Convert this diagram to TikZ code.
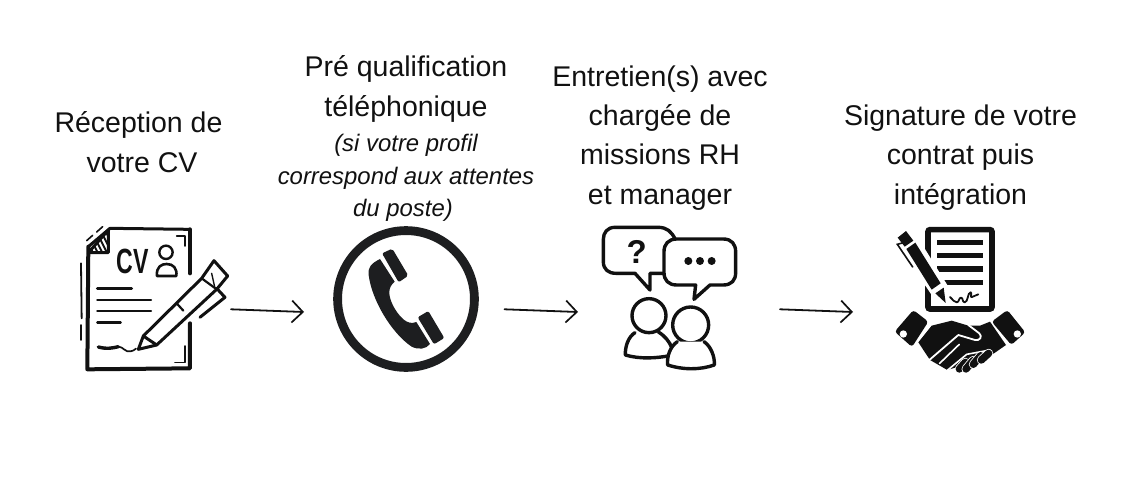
\documentclass[tikz,border=0pt]{standalone}
\usepackage{fontspec}
\setmainfont{Liberation Sans}
\usetikzlibrary{arrows.meta}
\definecolor{ink}{HTML}{111111}
\definecolor{phone}{HTML}{1D1E20}
\tikzset{
  lab/.style={inner sep=0pt,align=center,text=ink,font=\fontsize{28.5}{39.3}\selectfont},
  flow/.style={ink,line width=1.8pt,line cap=round,-{Straight Barb[length=11pt,width=22pt,line width=1.7pt]}},
  ln/.style={ink,line width=3pt,line cap=round,line join=round},
  thick2/.style={ink,line width=4pt,line cap=round,line join=round},
  thin1/.style={ink,line width=1.6pt,line cap=round,line join=round},
  bub/.style={ink,line width=3.4pt,line cap=round,line join=round},
  z1/.style={shift={(60,210)},x=.3333pt,y=-.3333pt},
  z2/.style={shift={(320,210)},x=.3333pt,y=-.3333pt},
  z3/.style={shift={(590,210)},x=.3333pt,y=-.3333pt},
  z4/.style={shift={(880,215)},x=.3333pt,y=-.3333pt},
  z5/.style={shift={(890,225)},x=.3333pt,y=-.3333pt},
  z6/.style={shift={(890,305)},x=.3333pt,y=-.3333pt},
}
\newcommand{\itl}[1]{{\fontsize{23.9}{32}\selectfont\itshape #1}}
\begin{document}
\begin{tikzpicture}[x=1pt,y=-1pt]
\useasboundingbox (0,0) rectangle (1121,487);
% labels
\node[lab,anchor=base] (t1) at (138.5,172) {Réception de\\\hspace*{7pt}votre CV};
\node[lab,anchor=base] (t2) at (406,216.5) {Pré qualification\\téléphonique\\[-3.5pt]\itl{(si votre profil}\\[-7pt]\itl{correspond aux attentes}\\[-7pt]\itl{du poste)\hspace*{6pt}}};
\node[lab,anchor=base] (t3) at (660,204) {Entretien(s) avec\\chargée de\\missions RH\\et manager};
\node[lab,anchor=base] (t4) at (960.5,204) {Signature de votre\\contrat puis\\intégration};
% --- CV icon
\begin{scope}[z1]
  \draw[ln] (85,110) -- (150,55) -- (390,58);
  \draw[thick2] (390,58) -- (390,190);
  \draw[thick2] (390,340) -- (390,475) -- (82,478) -- (85,110);
  \begin{scope}
    \clip (85,128) -- (145,128) -- (145,60) -- cycle;
    \foreach \a in {100,114,...,170} \draw[ink,line width=1.9pt] (\a,130) -- ({\a-30},70);
  \end{scope}
  \draw[ln] (85,128) -- (145,128) -- (145,60) -- cycle;
  \draw[thin1] (80,92) -- (98,76) (110,66) -- (128,50);
  \draw[thin1,line width=1.8pt] (63,160) -- (65,325) (63,345) -- (63,390);
  \draw[thin1] (350,78) -- (375,78) -- (375,108);
  \draw[thin1] (345,457) -- (375,457) -- (375,408);
  \node[inner sep=0pt,text=ink,font=\fontsize{35}{35}\selectfont\bfseries] (cv) at (218,153) {\scalebox{.66}[1]{CV}};
  \draw[ln,line width=2.4pt] (318,127) circle (20);
  \draw[ln,line width=2.6pt] (291,198) .. controls (288,170) and (305,162) .. (320,162) .. controls (340,162) and (352,175) .. (349,198) -- cycle;
  \draw[ln] (112,237) -- (215,237);
  \draw[ln,line width=2.4pt] (112,270) -- (273,270) (112,303) -- (273,303) (112,337) -- (182,337);
  \draw[ln,line width=3.4pt] (115,411) .. controls (140,418) and (160,414) .. (175,410);
  \draw[ln,line width=1.7pt] (175,410) .. controls (190,410) and (195,428) .. (212,424) .. controls (218,424) and (222,420) .. (228,416);
  \draw[ink,line width=3pt,line join=round,fill=white] (235,418) -- (250,378) -- (425,205) -- (462,152) -- (503,198) -- (470,238) -- (290,405) -- cycle;
  \draw[ln] (470,235) -- (495,262) -- (420,322);
  \draw[ln] (250,378) -- (290,405);
  \draw[ln,line width=2.2pt] (350,280) -- (370,302);
  \draw[ln,line width=2.2pt] (425,205) -- (470,238);
  \draw[ln,line width=1.4pt] (455,190) -- (465,235);
\end{scope}
% --- phone icon
\begin{scope}
  \clip (320,210) rectangle (478.8,371.6);
  \draw[phone,line width=8.8pt] (406,299) circle (68.4);
\end{scope}
\begin{scope}[z2]
  \fill[phone] (180,147) .. controls (155,160) and (143,170) .. (146,195)
     .. controls (155,270) and (215,370) .. (275,410)
     .. controls (295,420) and (318,418) .. (330,402)
     -- (289,336) .. controls (275,342) and (262,338) .. (250,328)
     .. controls (225,305) and (208,270) .. (208,248)
     .. controls (207,235) and (215,222) .. (224,215) -- cycle;
  \fill[phone,rounded corners=2pt] (186,130) -- (217,116) -- (265,197) -- (236,217) -- cycle;
  \fill[phone,rounded corners=2pt] (293,322) -- (325,303) -- (373,384) -- (342,403) -- cycle;
  \draw[white,line width=1.3pt] (183,132) -- (232,217) (288,323) -- (338,407);
\end{scope}
% --- discussion icon
\begin{scope}[z3]
  \draw[bub] (255,87) .. controls (245,65) and (230,52) .. (205,52) -- (75,52) .. controls (52,52) and (40,68) .. (40,88) -- (40,155) .. controls (40,178) and (55,190) .. (78,190) -- (135,190) -- (180,240) -- (180,190) -- (222,190);
  \draw[bub,fill=white] (260,87) -- (400,87) .. controls (425,87) and (437,103) .. (437,125) -- (437,188) .. controls (437,210) and (425,225) .. (400,225) -- (360,225) -- (312,268) -- (317,225) -- (260,225) .. controls (235,225) and (222,210) .. (222,188) -- (222,125) .. controls (222,103) and (235,87) .. (260,87) -- cycle;
  \node[inner sep=0pt,text=ink,font=\fontsize{33}{33}\selectfont\bfseries] (q) at (140,125) {?};
  \foreach \x in {295,330,365} \fill[ink] (\x,153) circle (12);
  \draw[bub] (177,317) circle (51);
  \draw[bub] (135,368) .. controls (115,380) and (105,410) .. (106,435) .. controls (150,448) and (200,445) .. (245,436);
  \draw[bub] (205,366) .. controls (225,378) and (238,395) .. (245,412);
  \draw[bub,fill=white] (302,345) circle (54);
  \draw[bub,fill=white] (262,395) .. controls (240,410) and (230,440) .. (233,465) .. controls (280,480) and (330,480) .. (373,465) .. controls (375,440) and (362,408) .. (342,395);
\end{scope}
% --- contract icon
\begin{scope}[z4]
  \draw[ink,line width=5.6pt,rounded corners=2pt] (144,44) rectangle (336,282);
  \foreach \y in {82,121,162,202} \fill[ink] (172,{\y-8}) rectangle (310,{\y+8});
  \draw[ln,line width=1.8pt] (210,246) .. controls (220,255) and (222,262) .. (230,262) .. controls (238,262) and (236,248) .. (243,248) .. controls (250,248) and (246,262) .. (254,262) .. controls (265,262) and (262,232) .. (272,232) .. controls (278,232) and (268,250) .. (276,246) -- (295,238);
\end{scope}
\begin{scope}[z5]
  \fill[white] (30,70) -- (85,40) -- (175,185) -- (178,240) -- (125,210) -- cycle;
  \fill[ink] (23,38) -- (48,18) -- (70,47) -- (44,65) -- cycle;
  \fill[ink] (49,72) -- (76,53) -- (152,175) -- (125,194) -- cycle;
  \fill[ink] (136,205) -- (161,188) -- (167,234) -- cycle;
  \draw[ink,line width=1.6pt,line cap=round] (44,52) -- (22,58) -- (68,126);
\end{scope}
\begin{scope}[z6]
  % cuffs
  \fill[ink,rounded corners=3pt] (70,15) -- (115,50) -- (66,126) -- (14,80) -- cycle;
  \fill[ink,rounded corners=3pt] (352,15) -- (406,82) -- (364,120) -- (305,50) -- cycle;
  \fill[white] (40,87) circle (11) (382,87) circle (11);
  % hands
  \fill[ink] (125,62) -- (185,47) -- (235,62) -- (270,62) -- (300,50) -- (348,120) -- (312,145) -- (290,155) -- (240,175) -- (205,185) -- (172,195) -- (120,165) -- (85,112) -- cycle;
  \draw[white,line width=1.8pt,line join=round,line cap=round] (118,165) -- (205,90) -- (255,105) .. controls (270,108) and (278,95) .. (268,85) -- (235,60);
  \draw[white,line width=1.6pt,line cap=round] (148,176) -- (208,118) (172,196) -- (230,148) -- (300,135);
  \foreach \a/\b/\c/\d in {208/192/226/172,228/192/250/166,250/178/272/152,274/165/296/145}{
    \draw[white,line width=9pt,line cap=round] (\a,\b) -- (\c,\d);
    \draw[ink,line width=7.4pt,line cap=round] (\a,\b) -- (\c,\d);}
\end{scope}
% connectors
\coordinate (a1) at (231,309.3); \coordinate (b1) at (304,312);
\coordinate (a2) at (504.5,309.3); \coordinate (b2) at (578,312);
\coordinate (a3) at (780,309.3); \coordinate (b3) at (853,312);
\draw[flow] (a1) -- (b1);
\draw[flow] (a2) -- (b2);
\draw[flow] (a3) -- (b3);
\end{tikzpicture}
\end{document}
